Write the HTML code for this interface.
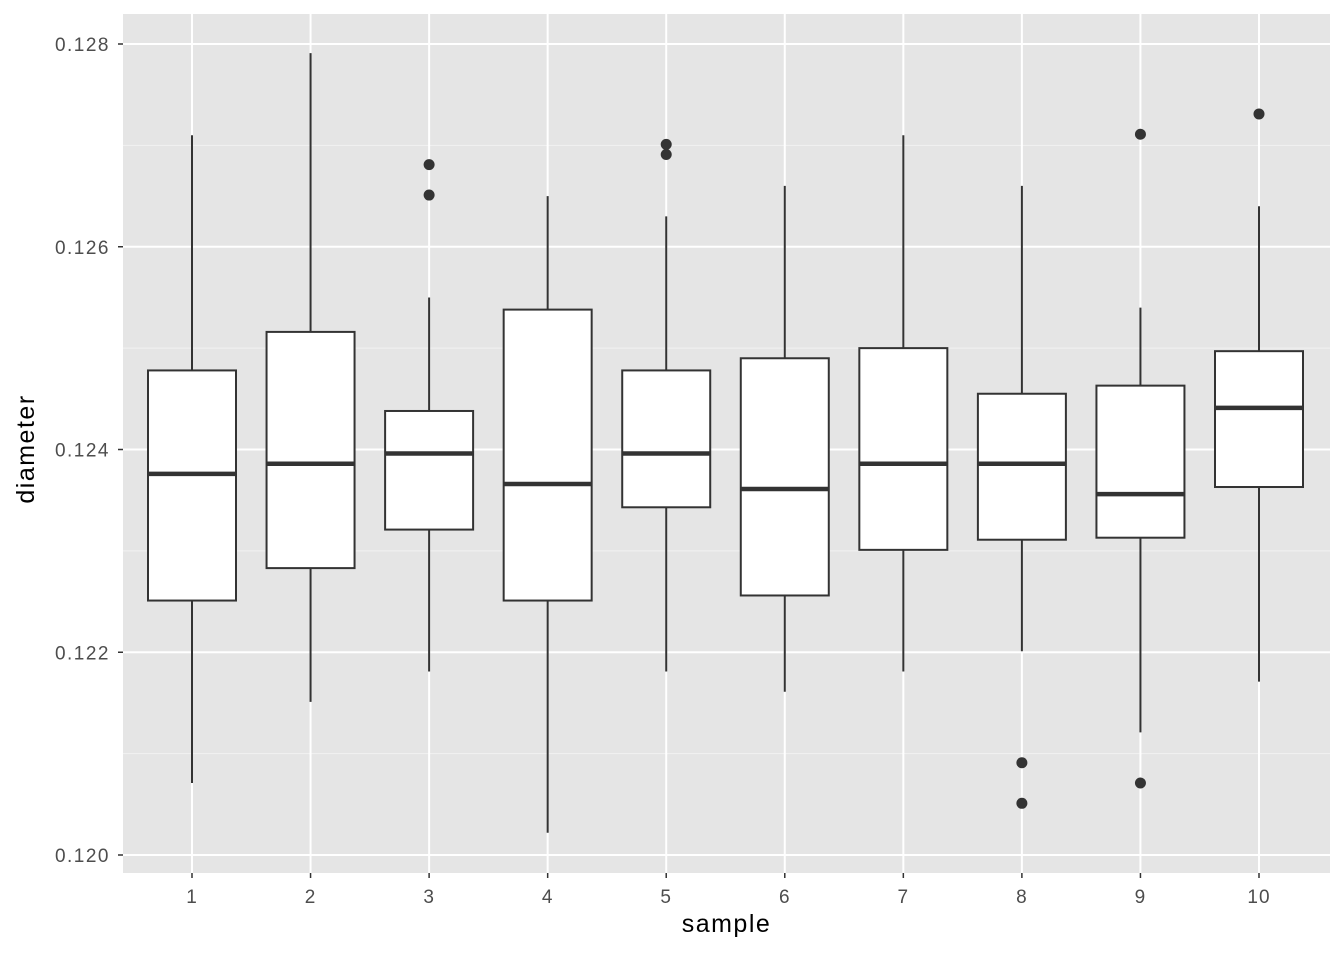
<!DOCTYPE html>
<html><head><meta charset="utf-8"><style>
body{margin:0;background:#fff;}
svg text{font-family:"Liberation Sans",sans-serif;}
</style></head><body>
<svg id="chart" width="1344" height="960" xmlns="http://www.w3.org/2000/svg"></svg>
<script>
const categories=["1","2","3","4","5","6","7","8","9","10"];
const whiskerLow=[0.12071,0.12151,0.12181,0.12022,0.12181,0.12161,0.12181,0.12201,0.12121,0.12171];
const q1=[0.12251,0.12283,0.12321,0.12251,0.12343,0.12256,0.12301,0.12311,0.12313,0.12363];
const median=[0.12376,0.12386,0.12396,0.12366,0.12396,0.12361,0.12386,0.12386,0.12356,0.12441];
const q3=[0.12478,0.12516,0.12438,0.12538,0.12478,0.12490,0.12500,0.12455,0.12463,0.12497];
const whiskerHigh=[0.12710,0.12791,0.12550,0.12650,0.12630,0.12660,0.12710,0.12660,0.12540,0.12640];
const outliers=[[],[],[0.12681,0.12651],[],[0.12701,0.12691],[],[],[0.12091,0.12051],[0.12711,0.12071],[0.12731]];
const yTicks=[0.120,0.122,0.124,0.126,0.128];
const yTickLabels=["0.120","0.122","0.124","0.126","0.128"];

const NS="http://www.w3.org/2000/svg";
const svg=document.getElementById('chart');
const P={l:123,r:1330,t:14,b:873};
const y=v=>855-(v-0.120)/0.008*(855-44);
const x=i=>192+i*(1259-192)/9;
function mk(t,a,parent){const e=document.createElementNS(NS,t);for(const k in a)e.setAttribute(k,a[k]);(parent||svg).appendChild(e);return e;}

const bg=mk('rect',{x:P.l,y:P.t,width:P.r-P.l,height:P.b-P.t,fill:'#e5e5e5'});


for(let k=0;k<yTicks.length-1;k++){
  const m=(yTicks[k]+yTicks[k+1])/2;
  const g=mk('line',{x1:P.l,x2:P.r,y1:y(m),y2:y(m),stroke:'#f2f2f2','stroke-width':1});
  
  
}
yTicks.forEach((v,k)=>{
  const g=mk('line',{x1:P.l,x2:P.r,y1:y(v),y2:y(v),stroke:'#fff','stroke-width':2});
  
  
  const tk=mk('line',{x1:P.l-5,x2:P.l,y1:y(v),y2:y(v),stroke:'#333','stroke-width':1.5});
  
  
  const t=mk('text',{x:P.l-13,y:y(v)+7,'text-anchor':'end','font-size':19,'letter-spacing':1.5,fill:'#4d4d4d'});
  t.textContent=yTickLabels[k];
  
  
});
categories.forEach((c,i)=>{
  const g=mk('line',{x1:x(i),x2:x(i),y1:P.t,y2:P.b,stroke:'#fff','stroke-width':2});
  
  
  const tk=mk('line',{x1:x(i),x2:x(i),y1:P.b,y2:P.b+5,stroke:'#333','stroke-width':1.5});
  
  
  const t=mk('text',{x:x(i),y:P.b+30,'text-anchor':'middle','font-size':19,'letter-spacing':1,fill:'#4d4d4d'});
  t.textContent=c;
  
  
});
const hw=44;
categories.forEach((c,i)=>{
  const g=mk('g',{});
  
  
  mk('line',{x1:x(i),x2:x(i),y1:y(whiskerHigh[i]),y2:y(q3[i]),stroke:'#333','stroke-width':2},g);
  mk('line',{x1:x(i),x2:x(i),y1:y(q1[i]),y2:y(whiskerLow[i]),stroke:'#333','stroke-width':2},g);
  mk('rect',{x:x(i)-hw,y:y(q3[i]),width:2*hw,height:y(q1[i])-y(q3[i]),fill:'#fff',stroke:'#333','stroke-width':2},g);
  mk('line',{x1:x(i)-hw,x2:x(i)+hw,y1:y(median[i]),y2:y(median[i]),stroke:'#333','stroke-width':4.5},g);
  outliers[i].forEach(o=>{
    const p=mk('circle',{cx:x(i),cy:y(o),r:5.5,fill:'#333'},g);
    
    
  });
});
const xt=mk('text',{x:(P.l+P.r)/2,y:932,'text-anchor':'middle','font-size':25,'letter-spacing':1.5,fill:'#000'});
xt.textContent='sample';


const yt=mk('text',{x:0,y:0,'text-anchor':'middle','font-size':25,'letter-spacing':1.5,fill:'#000',transform:'translate(34,449) rotate(-90)'});
yt.textContent='diameter';


</script>
</body></html>
